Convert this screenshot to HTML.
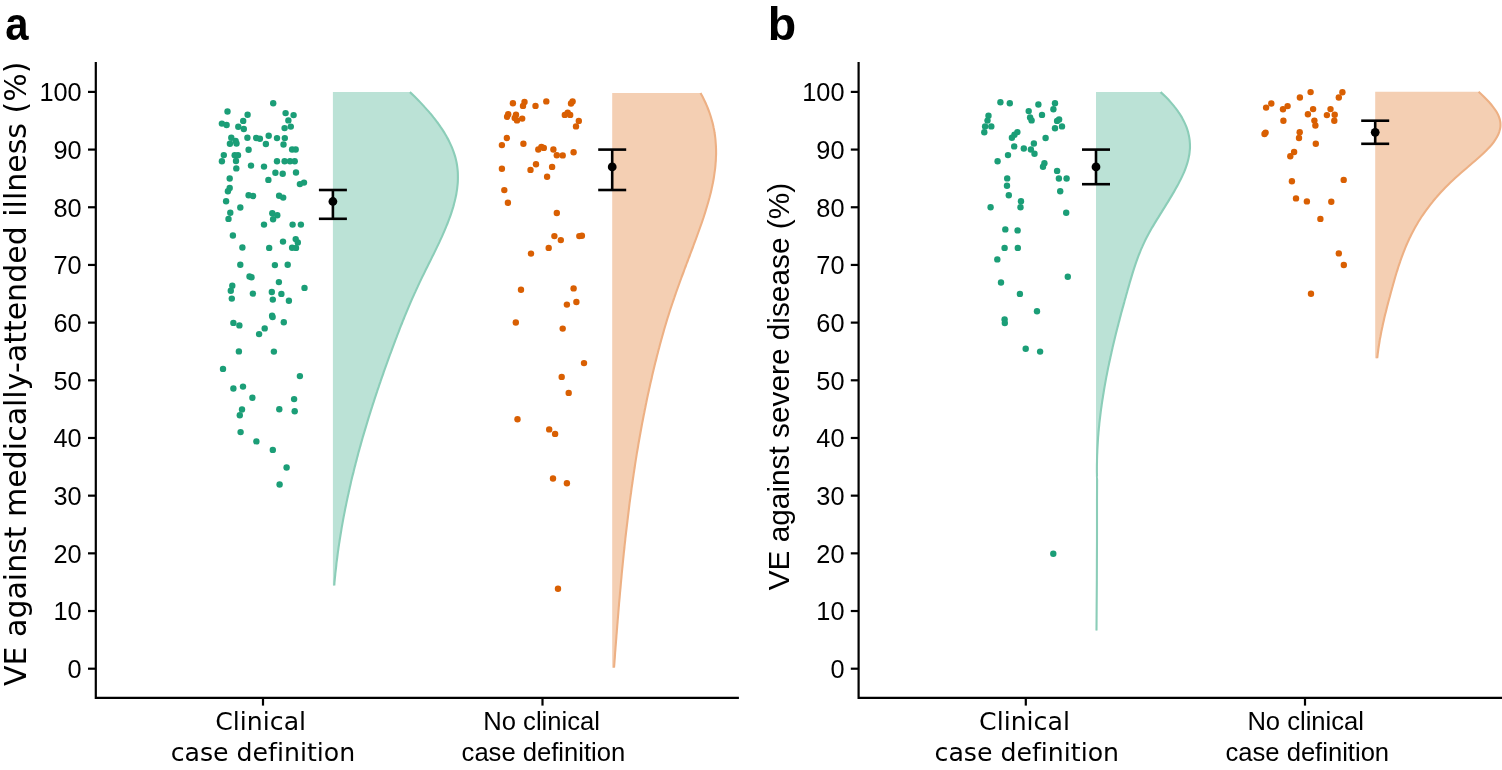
<!DOCTYPE html>
<html><head><meta charset="utf-8"><title>VE plot</title>
<style>html,body{margin:0;padding:0;background:#fff;}text{font-variant-ligatures:none;}.ls{font-family:"Liberation Sans",Arial,sans-serif;}.dj{font-family:"DejaVu Sans",sans-serif;}svg{display:block;}</style>
</head><body>
<svg width="1502" height="770" viewBox="0 0 1502 770">
<rect width="1502" height="770" fill="#fff"/>
<path d="M332.9,92.1 L409.9,92.1 C410.8,92.9 413.4,95.4 415.1,97.1 C416.8,98.8 418.5,100.4 420.1,102.1 C421.7,103.8 423.2,105.4 424.7,107.1 C426.3,108.8 427.7,110.4 429.2,112.1 C430.6,113.8 432.0,115.4 433.3,117.1 C434.7,118.8 435.9,120.4 437.2,122.1 C438.4,123.8 439.6,125.4 440.7,127.1 C441.9,128.8 443.0,130.4 444.0,132.1 C445.0,133.8 446.0,135.4 446.9,137.1 C447.9,138.8 448.7,140.4 449.5,142.1 C450.3,143.8 451.1,145.4 451.8,147.1 C452.5,148.8 453.1,150.4 453.7,152.1 C454.3,153.8 454.8,155.4 455.3,157.1 C455.7,158.8 456.1,160.4 456.5,162.1 C456.8,163.8 457.1,165.4 457.3,167.1 C457.5,168.8 457.7,170.4 457.8,172.1 C457.9,173.8 457.9,175.4 457.9,177.1 C457.9,178.8 457.9,180.4 457.8,182.1 C457.7,183.8 457.5,185.4 457.3,187.1 C457.2,188.8 456.9,190.4 456.6,192.1 C456.4,193.8 456.1,195.4 455.7,197.1 C455.3,198.8 455.0,200.4 454.5,202.1 C454.1,203.8 453.6,205.4 453.2,207.1 C452.7,208.8 452.1,210.4 451.6,212.1 C451.1,213.8 450.5,215.4 449.9,217.1 C449.3,218.8 448.6,220.4 448.0,222.1 C447.4,223.8 446.7,225.4 446.0,227.1 C445.3,228.8 444.6,230.4 443.9,232.1 C443.2,233.8 442.4,235.4 441.7,237.1 C440.9,238.8 440.1,240.4 439.4,242.1 C438.6,243.8 437.8,245.4 437.0,247.1 C436.2,248.8 435.4,250.4 434.6,252.1 C433.8,253.8 433.0,255.4 432.1,257.1 C431.3,258.8 430.5,260.4 429.7,262.1 C428.8,263.8 428.0,265.4 427.2,267.1 C426.3,268.8 425.5,270.4 424.7,272.1 C423.9,273.8 423.1,275.4 422.2,277.1 C421.4,278.8 420.6,280.4 419.8,282.1 C419.0,283.8 418.2,285.4 417.5,287.1 C416.7,288.8 415.9,290.4 415.2,292.1 C414.4,293.8 413.7,295.4 412.9,297.1 C412.2,298.8 411.4,300.4 410.7,302.1 C410.0,303.8 409.3,305.4 408.6,307.1 C407.9,308.8 407.2,310.4 406.5,312.1 C405.8,313.8 405.1,315.4 404.4,317.1 C403.8,318.8 403.1,320.4 402.4,322.1 C401.8,323.8 401.1,325.4 400.4,327.1 C399.8,328.8 399.1,330.4 398.5,332.1 C397.8,333.8 397.2,335.4 396.6,337.1 C395.9,338.8 395.3,340.4 394.7,342.1 C394.1,343.8 393.4,345.4 392.8,347.1 C392.2,348.8 391.6,350.4 391.0,352.1 C390.3,353.8 389.7,355.4 389.1,357.1 C388.5,358.8 387.9,360.4 387.3,362.1 C386.7,363.8 386.1,365.4 385.5,367.1 C384.9,368.8 384.3,370.4 383.7,372.1 C383.2,373.8 382.6,375.4 382.0,377.1 C381.4,378.8 380.8,380.4 380.3,382.1 C379.7,383.8 379.1,385.4 378.6,387.1 C378.0,388.8 377.4,390.4 376.9,392.1 C376.3,393.8 375.8,395.4 375.2,397.1 C374.7,398.8 374.1,400.4 373.6,402.1 C373.0,403.8 372.5,405.4 372.0,407.1 C371.4,408.8 370.9,410.4 370.4,412.1 C369.9,413.8 369.3,415.4 368.8,417.1 C368.3,418.8 367.8,420.4 367.3,422.1 C366.8,423.8 366.3,425.4 365.8,427.1 C365.3,428.8 364.8,430.4 364.3,432.1 C363.8,433.8 363.3,435.4 362.8,437.1 C362.4,438.8 361.9,440.4 361.4,442.1 C360.9,443.8 360.5,445.4 360.0,447.1 C359.6,448.8 359.1,450.4 358.6,452.1 C358.2,453.8 357.7,455.4 357.3,457.1 C356.9,458.8 356.4,460.4 356.0,462.1 C355.6,463.8 355.1,465.4 354.7,467.1 C354.3,468.8 353.9,470.4 353.5,472.1 C353.0,473.8 352.6,475.4 352.2,477.1 C351.8,478.8 351.4,480.4 351.0,482.1 C350.7,483.8 350.3,485.4 349.9,487.1 C349.5,488.8 349.1,490.4 348.8,492.1 C348.4,493.8 348.0,495.4 347.7,497.1 C347.3,498.8 347.0,500.4 346.6,502.1 C346.3,503.8 345.9,505.4 345.6,507.1 C345.2,508.8 344.9,510.4 344.6,512.1 C344.3,513.8 343.9,515.4 343.6,517.1 C343.3,518.8 343.0,520.4 342.7,522.1 C342.4,523.8 342.1,525.4 341.8,527.1 C341.5,528.8 341.3,530.4 341.0,532.1 C340.7,533.8 340.4,535.4 340.2,537.1 C339.9,538.8 339.6,540.4 339.4,542.1 C339.1,543.8 338.9,545.4 338.6,547.1 C338.4,548.8 338.2,550.4 337.9,552.1 C337.7,553.8 337.5,555.4 337.3,557.1 C337.1,558.8 336.9,560.4 336.6,562.1 C336.4,563.8 336.3,565.4 336.1,567.1 C335.9,568.8 335.7,570.4 335.5,572.1 C335.3,573.8 335.2,575.4 335.0,577.1 C334.8,578.8 334.7,580.7 334.5,582.1 C334.4,583.5 334.3,584.9 334.3,585.5 L332.9,585.5 Z" fill="#BBE2D6"/>
<path d="M409.9,92.1 C410.8,92.9 413.4,95.4 415.1,97.1 C416.8,98.8 418.5,100.4 420.1,102.1 C421.7,103.8 423.2,105.4 424.7,107.1 C426.3,108.8 427.7,110.4 429.2,112.1 C430.6,113.8 432.0,115.4 433.3,117.1 C434.7,118.8 435.9,120.4 437.2,122.1 C438.4,123.8 439.6,125.4 440.7,127.1 C441.9,128.8 443.0,130.4 444.0,132.1 C445.0,133.8 446.0,135.4 446.9,137.1 C447.9,138.8 448.7,140.4 449.5,142.1 C450.3,143.8 451.1,145.4 451.8,147.1 C452.5,148.8 453.1,150.4 453.7,152.1 C454.3,153.8 454.8,155.4 455.3,157.1 C455.7,158.8 456.1,160.4 456.5,162.1 C456.8,163.8 457.1,165.4 457.3,167.1 C457.5,168.8 457.7,170.4 457.8,172.1 C457.9,173.8 457.9,175.4 457.9,177.1 C457.9,178.8 457.9,180.4 457.8,182.1 C457.7,183.8 457.5,185.4 457.3,187.1 C457.2,188.8 456.9,190.4 456.6,192.1 C456.4,193.8 456.1,195.4 455.7,197.1 C455.3,198.8 455.0,200.4 454.5,202.1 C454.1,203.8 453.6,205.4 453.2,207.1 C452.7,208.8 452.1,210.4 451.6,212.1 C451.1,213.8 450.5,215.4 449.9,217.1 C449.3,218.8 448.6,220.4 448.0,222.1 C447.4,223.8 446.7,225.4 446.0,227.1 C445.3,228.8 444.6,230.4 443.9,232.1 C443.2,233.8 442.4,235.4 441.7,237.1 C440.9,238.8 440.1,240.4 439.4,242.1 C438.6,243.8 437.8,245.4 437.0,247.1 C436.2,248.8 435.4,250.4 434.6,252.1 C433.8,253.8 433.0,255.4 432.1,257.1 C431.3,258.8 430.5,260.4 429.7,262.1 C428.8,263.8 428.0,265.4 427.2,267.1 C426.3,268.8 425.5,270.4 424.7,272.1 C423.9,273.8 423.1,275.4 422.2,277.1 C421.4,278.8 420.6,280.4 419.8,282.1 C419.0,283.8 418.2,285.4 417.5,287.1 C416.7,288.8 415.9,290.4 415.2,292.1 C414.4,293.8 413.7,295.4 412.9,297.1 C412.2,298.8 411.4,300.4 410.7,302.1 C410.0,303.8 409.3,305.4 408.6,307.1 C407.9,308.8 407.2,310.4 406.5,312.1 C405.8,313.8 405.1,315.4 404.4,317.1 C403.8,318.8 403.1,320.4 402.4,322.1 C401.8,323.8 401.1,325.4 400.4,327.1 C399.8,328.8 399.1,330.4 398.5,332.1 C397.8,333.8 397.2,335.4 396.6,337.1 C395.9,338.8 395.3,340.4 394.7,342.1 C394.1,343.8 393.4,345.4 392.8,347.1 C392.2,348.8 391.6,350.4 391.0,352.1 C390.3,353.8 389.7,355.4 389.1,357.1 C388.5,358.8 387.9,360.4 387.3,362.1 C386.7,363.8 386.1,365.4 385.5,367.1 C384.9,368.8 384.3,370.4 383.7,372.1 C383.2,373.8 382.6,375.4 382.0,377.1 C381.4,378.8 380.8,380.4 380.3,382.1 C379.7,383.8 379.1,385.4 378.6,387.1 C378.0,388.8 377.4,390.4 376.9,392.1 C376.3,393.8 375.8,395.4 375.2,397.1 C374.7,398.8 374.1,400.4 373.6,402.1 C373.0,403.8 372.5,405.4 372.0,407.1 C371.4,408.8 370.9,410.4 370.4,412.1 C369.9,413.8 369.3,415.4 368.8,417.1 C368.3,418.8 367.8,420.4 367.3,422.1 C366.8,423.8 366.3,425.4 365.8,427.1 C365.3,428.8 364.8,430.4 364.3,432.1 C363.8,433.8 363.3,435.4 362.8,437.1 C362.4,438.8 361.9,440.4 361.4,442.1 C360.9,443.8 360.5,445.4 360.0,447.1 C359.6,448.8 359.1,450.4 358.6,452.1 C358.2,453.8 357.7,455.4 357.3,457.1 C356.9,458.8 356.4,460.4 356.0,462.1 C355.6,463.8 355.1,465.4 354.7,467.1 C354.3,468.8 353.9,470.4 353.5,472.1 C353.0,473.8 352.6,475.4 352.2,477.1 C351.8,478.8 351.4,480.4 351.0,482.1 C350.7,483.8 350.3,485.4 349.9,487.1 C349.5,488.8 349.1,490.4 348.8,492.1 C348.4,493.8 348.0,495.4 347.7,497.1 C347.3,498.8 347.0,500.4 346.6,502.1 C346.3,503.8 345.9,505.4 345.6,507.1 C345.2,508.8 344.9,510.4 344.6,512.1 C344.3,513.8 343.9,515.4 343.6,517.1 C343.3,518.8 343.0,520.4 342.7,522.1 C342.4,523.8 342.1,525.4 341.8,527.1 C341.5,528.8 341.3,530.4 341.0,532.1 C340.7,533.8 340.4,535.4 340.2,537.1 C339.9,538.8 339.6,540.4 339.4,542.1 C339.1,543.8 338.9,545.4 338.6,547.1 C338.4,548.8 338.2,550.4 337.9,552.1 C337.7,553.8 337.5,555.4 337.3,557.1 C337.1,558.8 336.9,560.4 336.6,562.1 C336.4,563.8 336.3,565.4 336.1,567.1 C335.9,568.8 335.7,570.4 335.5,572.1 C335.3,573.8 335.2,575.4 335.0,577.1 C334.8,578.8 334.7,580.7 334.5,582.1 C334.4,583.5 334.3,584.9 334.3,585.5" fill="none" stroke="#8BCDB8" stroke-width="2.1"/>

<path d="M612.2,93.0 L700.5,93.0 C700.9,93.8 702.3,96.3 703.2,98.0 C704.0,99.7 704.8,101.3 705.6,103.0 C706.3,104.7 707.1,106.3 707.7,108.0 C708.4,109.7 709.0,111.3 709.6,113.0 C710.2,114.7 710.7,116.3 711.2,118.0 C711.7,119.7 712.2,121.3 712.6,123.0 C713.0,124.7 713.4,126.3 713.7,128.0 C714.1,129.7 714.4,131.3 714.6,133.0 C714.9,134.7 715.1,136.3 715.3,138.0 C715.5,139.7 715.6,141.3 715.7,143.0 C715.9,144.7 715.9,146.3 716.0,148.0 C716.1,149.7 716.1,151.3 716.1,153.0 C716.1,154.7 716.0,156.3 715.9,158.0 C715.9,159.7 715.8,161.3 715.6,163.0 C715.5,164.7 715.4,166.3 715.2,168.0 C715.0,169.7 714.8,171.3 714.5,173.0 C714.3,174.7 714.1,176.3 713.8,178.0 C713.5,179.7 713.2,181.3 712.9,183.0 C712.5,184.7 712.2,186.3 711.8,188.0 C711.5,189.7 711.1,191.3 710.7,193.0 C710.3,194.7 709.8,196.3 709.4,198.0 C708.9,199.7 708.5,201.3 708.0,203.0 C707.5,204.7 707.0,206.3 706.5,208.0 C706.0,209.7 705.5,211.3 705.0,213.0 C704.5,214.7 703.9,216.3 703.4,218.0 C702.8,219.7 702.3,221.3 701.7,223.0 C701.1,224.7 700.5,226.3 699.9,228.0 C699.3,229.7 698.7,231.3 698.1,233.0 C697.5,234.7 696.9,236.3 696.3,238.0 C695.7,239.7 695.1,241.3 694.4,243.0 C693.8,244.7 693.2,246.3 692.6,248.0 C691.9,249.7 691.3,251.3 690.7,253.0 C690.1,254.7 689.4,256.3 688.8,258.0 C688.2,259.7 687.5,261.3 686.9,263.0 C686.3,264.7 685.6,266.3 685.0,268.0 C684.4,269.7 683.8,271.3 683.2,273.0 C682.5,274.7 681.9,276.3 681.3,278.0 C680.7,279.7 680.1,281.3 679.5,283.0 C678.9,284.7 678.3,286.3 677.7,288.0 C677.1,289.7 676.5,291.3 675.9,293.0 C675.3,294.7 674.7,296.3 674.2,298.0 C673.6,299.7 673.0,301.3 672.5,303.0 C671.9,304.7 671.4,306.3 670.8,308.0 C670.3,309.7 669.7,311.3 669.2,313.0 C668.7,314.7 668.2,316.3 667.6,318.0 C667.1,319.7 666.6,321.3 666.1,323.0 C665.6,324.7 665.1,326.3 664.6,328.0 C664.1,329.7 663.7,331.3 663.2,333.0 C662.7,334.7 662.2,336.3 661.8,338.0 C661.3,339.7 660.9,341.3 660.4,343.0 C660.0,344.7 659.5,346.3 659.1,348.0 C658.6,349.7 658.2,351.3 657.8,353.0 C657.3,354.7 656.9,356.3 656.5,358.0 C656.1,359.7 655.7,361.3 655.2,363.0 C654.8,364.7 654.4,366.3 654.0,368.0 C653.6,369.7 653.2,371.3 652.8,373.0 C652.4,374.7 652.0,376.3 651.7,378.0 C651.3,379.7 650.9,381.3 650.5,383.0 C650.1,384.7 649.8,386.3 649.4,388.0 C649.0,389.7 648.7,391.3 648.3,393.0 C647.9,394.7 647.6,396.3 647.2,398.0 C646.9,399.7 646.5,401.3 646.2,403.0 C645.8,404.7 645.5,406.3 645.2,408.0 C644.8,409.7 644.5,411.3 644.2,413.0 C643.8,414.7 643.5,416.3 643.2,418.0 C642.9,419.7 642.6,421.3 642.2,423.0 C641.9,424.7 641.6,426.3 641.3,428.0 C641.0,429.7 640.7,431.3 640.4,433.0 C640.1,434.7 639.8,436.3 639.5,438.0 C639.2,439.7 638.9,441.3 638.6,443.0 C638.3,444.7 638.1,446.3 637.8,448.0 C637.5,449.7 637.2,451.3 636.9,453.0 C636.7,454.7 636.4,456.3 636.1,458.0 C635.9,459.7 635.6,461.3 635.3,463.0 C635.1,464.7 634.8,466.3 634.6,468.0 C634.3,469.7 634.1,471.3 633.8,473.0 C633.6,474.7 633.3,476.3 633.1,478.0 C632.8,479.7 632.6,481.3 632.4,483.0 C632.1,484.7 631.9,486.3 631.6,488.0 C631.4,489.7 631.2,491.3 631.0,493.0 C630.7,494.7 630.5,496.3 630.3,498.0 C630.1,499.7 629.8,501.3 629.6,503.0 C629.4,504.7 629.2,506.3 629.0,508.0 C628.8,509.7 628.6,511.3 628.4,513.0 C628.2,514.7 628.0,516.3 627.8,518.0 C627.6,519.7 627.4,521.3 627.2,523.0 C627.0,524.7 626.8,526.3 626.6,528.0 C626.4,529.7 626.2,531.3 626.0,533.0 C625.8,534.7 625.6,536.3 625.4,538.0 C625.3,539.7 625.1,541.3 624.9,543.0 C624.7,544.7 624.5,546.3 624.4,548.0 C624.2,549.7 624.0,551.3 623.8,553.0 C623.7,554.7 623.5,556.3 623.3,558.0 C623.2,559.7 623.0,561.3 622.8,563.0 C622.7,564.7 622.5,566.3 622.3,568.0 C622.2,569.7 622.0,571.3 621.8,573.0 C621.7,574.7 621.5,576.3 621.4,578.0 C621.2,579.7 621.1,581.3 620.9,583.0 C620.8,584.7 620.6,586.3 620.5,588.0 C620.3,589.7 620.2,591.3 620.0,593.0 C619.9,594.7 619.7,596.3 619.6,598.0 C619.4,599.7 619.3,601.3 619.1,603.0 C619.0,604.7 618.9,606.3 618.7,608.0 C618.6,609.7 618.4,611.3 618.3,613.0 C618.2,614.7 618.0,616.3 617.9,618.0 C617.7,619.7 617.6,621.3 617.5,623.0 C617.3,624.7 617.2,626.3 617.1,628.0 C616.9,629.7 616.8,631.3 616.7,633.0 C616.5,634.7 616.4,636.3 616.3,638.0 C616.2,639.7 616.0,641.3 615.9,643.0 C615.8,644.7 615.6,646.3 615.5,648.0 C615.4,649.7 615.3,651.3 615.1,653.0 C615.0,654.7 614.9,656.3 614.8,658.0 C614.6,659.7 614.5,661.4 614.4,663.0 C614.3,664.6 614.1,666.9 614.0,667.7 L612.2,667.7 Z" fill="#F4CFB3"/>
<path d="M700.5,93.0 C700.9,93.8 702.3,96.3 703.2,98.0 C704.0,99.7 704.8,101.3 705.6,103.0 C706.3,104.7 707.1,106.3 707.7,108.0 C708.4,109.7 709.0,111.3 709.6,113.0 C710.2,114.7 710.7,116.3 711.2,118.0 C711.7,119.7 712.2,121.3 712.6,123.0 C713.0,124.7 713.4,126.3 713.7,128.0 C714.1,129.7 714.4,131.3 714.6,133.0 C714.9,134.7 715.1,136.3 715.3,138.0 C715.5,139.7 715.6,141.3 715.7,143.0 C715.9,144.7 715.9,146.3 716.0,148.0 C716.1,149.7 716.1,151.3 716.1,153.0 C716.1,154.7 716.0,156.3 715.9,158.0 C715.9,159.7 715.8,161.3 715.6,163.0 C715.5,164.7 715.4,166.3 715.2,168.0 C715.0,169.7 714.8,171.3 714.5,173.0 C714.3,174.7 714.1,176.3 713.8,178.0 C713.5,179.7 713.2,181.3 712.9,183.0 C712.5,184.7 712.2,186.3 711.8,188.0 C711.5,189.7 711.1,191.3 710.7,193.0 C710.3,194.7 709.8,196.3 709.4,198.0 C708.9,199.7 708.5,201.3 708.0,203.0 C707.5,204.7 707.0,206.3 706.5,208.0 C706.0,209.7 705.5,211.3 705.0,213.0 C704.5,214.7 703.9,216.3 703.4,218.0 C702.8,219.7 702.3,221.3 701.7,223.0 C701.1,224.7 700.5,226.3 699.9,228.0 C699.3,229.7 698.7,231.3 698.1,233.0 C697.5,234.7 696.9,236.3 696.3,238.0 C695.7,239.7 695.1,241.3 694.4,243.0 C693.8,244.7 693.2,246.3 692.6,248.0 C691.9,249.7 691.3,251.3 690.7,253.0 C690.1,254.7 689.4,256.3 688.8,258.0 C688.2,259.7 687.5,261.3 686.9,263.0 C686.3,264.7 685.6,266.3 685.0,268.0 C684.4,269.7 683.8,271.3 683.2,273.0 C682.5,274.7 681.9,276.3 681.3,278.0 C680.7,279.7 680.1,281.3 679.5,283.0 C678.9,284.7 678.3,286.3 677.7,288.0 C677.1,289.7 676.5,291.3 675.9,293.0 C675.3,294.7 674.7,296.3 674.2,298.0 C673.6,299.7 673.0,301.3 672.5,303.0 C671.9,304.7 671.4,306.3 670.8,308.0 C670.3,309.7 669.7,311.3 669.2,313.0 C668.7,314.7 668.2,316.3 667.6,318.0 C667.1,319.7 666.6,321.3 666.1,323.0 C665.6,324.7 665.1,326.3 664.6,328.0 C664.1,329.7 663.7,331.3 663.2,333.0 C662.7,334.7 662.2,336.3 661.8,338.0 C661.3,339.7 660.9,341.3 660.4,343.0 C660.0,344.7 659.5,346.3 659.1,348.0 C658.6,349.7 658.2,351.3 657.8,353.0 C657.3,354.7 656.9,356.3 656.5,358.0 C656.1,359.7 655.7,361.3 655.2,363.0 C654.8,364.7 654.4,366.3 654.0,368.0 C653.6,369.7 653.2,371.3 652.8,373.0 C652.4,374.7 652.0,376.3 651.7,378.0 C651.3,379.7 650.9,381.3 650.5,383.0 C650.1,384.7 649.8,386.3 649.4,388.0 C649.0,389.7 648.7,391.3 648.3,393.0 C647.9,394.7 647.6,396.3 647.2,398.0 C646.9,399.7 646.5,401.3 646.2,403.0 C645.8,404.7 645.5,406.3 645.2,408.0 C644.8,409.7 644.5,411.3 644.2,413.0 C643.8,414.7 643.5,416.3 643.2,418.0 C642.9,419.7 642.6,421.3 642.2,423.0 C641.9,424.7 641.6,426.3 641.3,428.0 C641.0,429.7 640.7,431.3 640.4,433.0 C640.1,434.7 639.8,436.3 639.5,438.0 C639.2,439.7 638.9,441.3 638.6,443.0 C638.3,444.7 638.1,446.3 637.8,448.0 C637.5,449.7 637.2,451.3 636.9,453.0 C636.7,454.7 636.4,456.3 636.1,458.0 C635.9,459.7 635.6,461.3 635.3,463.0 C635.1,464.7 634.8,466.3 634.6,468.0 C634.3,469.7 634.1,471.3 633.8,473.0 C633.6,474.7 633.3,476.3 633.1,478.0 C632.8,479.7 632.6,481.3 632.4,483.0 C632.1,484.7 631.9,486.3 631.6,488.0 C631.4,489.7 631.2,491.3 631.0,493.0 C630.7,494.7 630.5,496.3 630.3,498.0 C630.1,499.7 629.8,501.3 629.6,503.0 C629.4,504.7 629.2,506.3 629.0,508.0 C628.8,509.7 628.6,511.3 628.4,513.0 C628.2,514.7 628.0,516.3 627.8,518.0 C627.6,519.7 627.4,521.3 627.2,523.0 C627.0,524.7 626.8,526.3 626.6,528.0 C626.4,529.7 626.2,531.3 626.0,533.0 C625.8,534.7 625.6,536.3 625.4,538.0 C625.3,539.7 625.1,541.3 624.9,543.0 C624.7,544.7 624.5,546.3 624.4,548.0 C624.2,549.7 624.0,551.3 623.8,553.0 C623.7,554.7 623.5,556.3 623.3,558.0 C623.2,559.7 623.0,561.3 622.8,563.0 C622.7,564.7 622.5,566.3 622.3,568.0 C622.2,569.7 622.0,571.3 621.8,573.0 C621.7,574.7 621.5,576.3 621.4,578.0 C621.2,579.7 621.1,581.3 620.9,583.0 C620.8,584.7 620.6,586.3 620.5,588.0 C620.3,589.7 620.2,591.3 620.0,593.0 C619.9,594.7 619.7,596.3 619.6,598.0 C619.4,599.7 619.3,601.3 619.1,603.0 C619.0,604.7 618.9,606.3 618.7,608.0 C618.6,609.7 618.4,611.3 618.3,613.0 C618.2,614.7 618.0,616.3 617.9,618.0 C617.7,619.7 617.6,621.3 617.5,623.0 C617.3,624.7 617.2,626.3 617.1,628.0 C616.9,629.7 616.8,631.3 616.7,633.0 C616.5,634.7 616.4,636.3 616.3,638.0 C616.2,639.7 616.0,641.3 615.9,643.0 C615.8,644.7 615.6,646.3 615.5,648.0 C615.4,649.7 615.3,651.3 615.1,653.0 C615.0,654.7 614.9,656.3 614.8,658.0 C614.6,659.7 614.5,661.4 614.4,663.0 C614.3,664.6 614.1,666.9 614.0,667.7" fill="none" stroke="#EDB084" stroke-width="2.1"/>

<path d="M1096.0,92.1 L1160.6,92.1 C1161.5,92.9 1164.2,95.4 1165.9,97.1 C1167.6,98.8 1169.1,100.4 1170.6,102.1 C1172.1,103.8 1173.5,105.4 1174.8,107.1 C1176.2,108.8 1177.4,110.4 1178.5,112.1 C1179.7,113.8 1180.7,115.4 1181.7,117.1 C1182.6,118.8 1183.5,120.4 1184.3,122.1 C1185.1,123.8 1185.8,125.4 1186.5,127.1 C1187.1,128.8 1187.6,130.4 1188.1,132.1 C1188.5,133.8 1188.9,135.4 1189.2,137.1 C1189.5,138.8 1189.7,140.4 1189.8,142.1 C1190.0,143.8 1190.0,145.4 1190.0,147.1 C1190.0,148.8 1189.8,150.4 1189.6,152.1 C1189.5,153.8 1189.2,155.4 1188.8,157.1 C1188.5,158.8 1188.1,160.4 1187.6,162.1 C1187.1,163.8 1186.6,165.4 1186.0,167.1 C1185.4,168.8 1184.8,170.4 1184.1,172.1 C1183.4,173.8 1182.6,175.4 1181.8,177.1 C1181.0,178.8 1180.2,180.4 1179.3,182.1 C1178.5,183.8 1177.6,185.4 1176.6,187.1 C1175.7,188.8 1174.8,190.4 1173.8,192.1 C1172.8,193.8 1171.8,195.4 1170.8,197.1 C1169.8,198.8 1168.8,200.4 1167.8,202.1 C1166.7,203.8 1165.7,205.4 1164.7,207.1 C1163.6,208.8 1162.6,210.4 1161.6,212.1 C1160.5,213.8 1159.5,215.4 1158.5,217.1 C1157.4,218.8 1156.4,220.4 1155.4,222.1 C1154.4,223.8 1153.4,225.4 1152.4,227.1 C1151.5,228.8 1150.5,230.4 1149.6,232.1 C1148.7,233.8 1147.8,235.4 1146.9,237.1 C1146.0,238.8 1145.2,240.4 1144.4,242.1 C1143.6,243.8 1142.8,245.4 1142.1,247.1 C1141.3,248.8 1140.6,250.4 1140.0,252.1 C1139.3,253.8 1138.6,255.4 1138.0,257.1 C1137.4,258.8 1136.8,260.4 1136.2,262.1 C1135.6,263.8 1135.1,265.4 1134.5,267.1 C1134.0,268.8 1133.4,270.4 1132.9,272.1 C1132.4,273.8 1131.9,275.4 1131.4,277.1 C1130.9,278.8 1130.4,280.4 1129.9,282.1 C1129.5,283.8 1129.0,285.4 1128.5,287.1 C1128.0,288.8 1127.5,290.4 1127.1,292.1 C1126.6,293.8 1126.1,295.4 1125.7,297.1 C1125.2,298.8 1124.7,300.4 1124.3,302.1 C1123.8,303.8 1123.4,305.4 1122.9,307.1 C1122.4,308.8 1122.0,310.4 1121.5,312.1 C1121.1,313.8 1120.7,315.4 1120.2,317.1 C1119.8,318.8 1119.3,320.4 1118.9,322.1 C1118.5,323.8 1118.0,325.4 1117.6,327.1 C1117.2,328.8 1116.8,330.4 1116.3,332.1 C1115.9,333.8 1115.5,335.4 1115.1,337.1 C1114.7,338.8 1114.3,340.4 1113.9,342.1 C1113.5,343.8 1113.1,345.4 1112.7,347.1 C1112.3,348.8 1111.9,350.4 1111.6,352.1 C1111.2,353.8 1110.8,355.4 1110.5,357.1 C1110.1,358.8 1109.7,360.4 1109.4,362.1 C1109.0,363.8 1108.7,365.4 1108.3,367.1 C1108.0,368.8 1107.6,370.4 1107.3,372.1 C1107.0,373.8 1106.7,375.4 1106.3,377.1 C1106.0,378.8 1105.7,380.4 1105.4,382.1 C1105.1,383.8 1104.8,385.4 1104.5,387.1 C1104.2,388.8 1103.9,390.4 1103.7,392.1 C1103.4,393.8 1103.1,395.4 1102.9,397.1 C1102.6,398.8 1102.3,400.4 1102.1,402.1 C1101.8,403.8 1101.6,405.4 1101.4,407.1 C1101.1,408.8 1100.9,410.4 1100.7,412.1 C1100.5,413.8 1100.3,415.4 1100.1,417.1 C1099.9,418.8 1099.7,420.4 1099.5,422.1 C1099.3,423.8 1099.2,425.4 1099.0,427.1 C1098.8,428.8 1098.7,430.4 1098.5,432.1 C1098.4,433.8 1098.3,435.4 1098.1,437.1 C1098.0,438.8 1097.9,440.4 1097.8,442.1 C1097.7,443.8 1097.6,445.4 1097.5,447.1 C1097.4,448.8 1097.3,450.4 1097.3,452.1 C1097.2,453.8 1097.1,455.4 1097.1,457.1 C1097.0,458.8 1097.0,460.4 1097.0,462.1 C1096.9,463.8 1096.9,465.4 1096.9,467.1 C1096.9,468.8 1096.9,470.4 1096.9,472.1 C1097.0,473.8 1097.0,475.8 1097.0,477.1 C1097.1,478.4 1097.1,476.2 1097.1,480.0 C1097.1,483.8 1097.0,491.7 1097.0,500.0 C1097.0,508.3 1097.0,520.0 1097.0,530.0 C1097.0,540.0 1097.0,548.3 1096.9,560.0 C1096.9,571.7 1096.8,588.2 1096.7,600.0 C1096.6,611.8 1096.5,625.5 1096.5,630.6 L1096.0,630.6 Z" fill="#BBE2D6"/>
<path d="M1160.6,92.1 C1161.5,92.9 1164.2,95.4 1165.9,97.1 C1167.6,98.8 1169.1,100.4 1170.6,102.1 C1172.1,103.8 1173.5,105.4 1174.8,107.1 C1176.2,108.8 1177.4,110.4 1178.5,112.1 C1179.7,113.8 1180.7,115.4 1181.7,117.1 C1182.6,118.8 1183.5,120.4 1184.3,122.1 C1185.1,123.8 1185.8,125.4 1186.5,127.1 C1187.1,128.8 1187.6,130.4 1188.1,132.1 C1188.5,133.8 1188.9,135.4 1189.2,137.1 C1189.5,138.8 1189.7,140.4 1189.8,142.1 C1190.0,143.8 1190.0,145.4 1190.0,147.1 C1190.0,148.8 1189.8,150.4 1189.6,152.1 C1189.5,153.8 1189.2,155.4 1188.8,157.1 C1188.5,158.8 1188.1,160.4 1187.6,162.1 C1187.1,163.8 1186.6,165.4 1186.0,167.1 C1185.4,168.8 1184.8,170.4 1184.1,172.1 C1183.4,173.8 1182.6,175.4 1181.8,177.1 C1181.0,178.8 1180.2,180.4 1179.3,182.1 C1178.5,183.8 1177.6,185.4 1176.6,187.1 C1175.7,188.8 1174.8,190.4 1173.8,192.1 C1172.8,193.8 1171.8,195.4 1170.8,197.1 C1169.8,198.8 1168.8,200.4 1167.8,202.1 C1166.7,203.8 1165.7,205.4 1164.7,207.1 C1163.6,208.8 1162.6,210.4 1161.6,212.1 C1160.5,213.8 1159.5,215.4 1158.5,217.1 C1157.4,218.8 1156.4,220.4 1155.4,222.1 C1154.4,223.8 1153.4,225.4 1152.4,227.1 C1151.5,228.8 1150.5,230.4 1149.6,232.1 C1148.7,233.8 1147.8,235.4 1146.9,237.1 C1146.0,238.8 1145.2,240.4 1144.4,242.1 C1143.6,243.8 1142.8,245.4 1142.1,247.1 C1141.3,248.8 1140.6,250.4 1140.0,252.1 C1139.3,253.8 1138.6,255.4 1138.0,257.1 C1137.4,258.8 1136.8,260.4 1136.2,262.1 C1135.6,263.8 1135.1,265.4 1134.5,267.1 C1134.0,268.8 1133.4,270.4 1132.9,272.1 C1132.4,273.8 1131.9,275.4 1131.4,277.1 C1130.9,278.8 1130.4,280.4 1129.9,282.1 C1129.5,283.8 1129.0,285.4 1128.5,287.1 C1128.0,288.8 1127.5,290.4 1127.1,292.1 C1126.6,293.8 1126.1,295.4 1125.7,297.1 C1125.2,298.8 1124.7,300.4 1124.3,302.1 C1123.8,303.8 1123.4,305.4 1122.9,307.1 C1122.4,308.8 1122.0,310.4 1121.5,312.1 C1121.1,313.8 1120.7,315.4 1120.2,317.1 C1119.8,318.8 1119.3,320.4 1118.9,322.1 C1118.5,323.8 1118.0,325.4 1117.6,327.1 C1117.2,328.8 1116.8,330.4 1116.3,332.1 C1115.9,333.8 1115.5,335.4 1115.1,337.1 C1114.7,338.8 1114.3,340.4 1113.9,342.1 C1113.5,343.8 1113.1,345.4 1112.7,347.1 C1112.3,348.8 1111.9,350.4 1111.6,352.1 C1111.2,353.8 1110.8,355.4 1110.5,357.1 C1110.1,358.8 1109.7,360.4 1109.4,362.1 C1109.0,363.8 1108.7,365.4 1108.3,367.1 C1108.0,368.8 1107.6,370.4 1107.3,372.1 C1107.0,373.8 1106.7,375.4 1106.3,377.1 C1106.0,378.8 1105.7,380.4 1105.4,382.1 C1105.1,383.8 1104.8,385.4 1104.5,387.1 C1104.2,388.8 1103.9,390.4 1103.7,392.1 C1103.4,393.8 1103.1,395.4 1102.9,397.1 C1102.6,398.8 1102.3,400.4 1102.1,402.1 C1101.8,403.8 1101.6,405.4 1101.4,407.1 C1101.1,408.8 1100.9,410.4 1100.7,412.1 C1100.5,413.8 1100.3,415.4 1100.1,417.1 C1099.9,418.8 1099.7,420.4 1099.5,422.1 C1099.3,423.8 1099.2,425.4 1099.0,427.1 C1098.8,428.8 1098.7,430.4 1098.5,432.1 C1098.4,433.8 1098.3,435.4 1098.1,437.1 C1098.0,438.8 1097.9,440.4 1097.8,442.1 C1097.7,443.8 1097.6,445.4 1097.5,447.1 C1097.4,448.8 1097.3,450.4 1097.3,452.1 C1097.2,453.8 1097.1,455.4 1097.1,457.1 C1097.0,458.8 1097.0,460.4 1097.0,462.1 C1096.9,463.8 1096.9,465.4 1096.9,467.1 C1096.9,468.8 1096.9,470.4 1096.9,472.1 C1097.0,473.8 1097.0,475.8 1097.0,477.1 C1097.1,478.4 1097.1,476.2 1097.1,480.0 C1097.1,483.8 1097.0,491.7 1097.0,500.0 C1097.0,508.3 1097.0,520.0 1097.0,530.0 C1097.0,540.0 1097.0,548.3 1096.9,560.0 C1096.9,571.7 1096.8,588.2 1096.7,600.0 C1096.6,611.8 1096.5,625.5 1096.5,630.6" fill="none" stroke="#8BCDB8" stroke-width="2.1"/>

<path d="M1375.2,91.8 L1478.6,91.8 C1479.5,92.6 1482.2,95.1 1483.9,96.8 C1485.6,98.5 1487.2,100.1 1488.8,101.8 C1490.3,103.5 1491.7,105.1 1493.0,106.8 C1494.3,108.5 1495.5,110.1 1496.5,111.8 C1497.5,113.5 1498.3,115.1 1499.0,116.8 C1499.6,118.5 1500.1,120.1 1500.3,121.8 C1500.5,123.5 1500.5,125.1 1500.4,126.8 C1500.2,128.5 1499.8,130.1 1499.3,131.8 C1498.7,133.5 1498.0,135.1 1497.1,136.8 C1496.2,138.5 1495.1,140.1 1493.9,141.8 C1492.7,143.5 1491.4,145.1 1489.9,146.8 C1488.4,148.5 1486.7,150.1 1485.0,151.8 C1483.3,153.5 1481.5,155.1 1479.6,156.8 C1477.8,158.5 1475.8,160.1 1473.9,161.8 C1472.0,163.5 1470.0,165.1 1468.1,166.8 C1466.1,168.5 1464.2,170.1 1462.3,171.8 C1460.4,173.5 1458.5,175.1 1456.6,176.8 C1454.8,178.5 1453.0,180.1 1451.2,181.8 C1449.5,183.5 1447.8,185.1 1446.1,186.8 C1444.5,188.5 1442.9,190.1 1441.3,191.8 C1439.8,193.5 1438.3,195.1 1436.8,196.8 C1435.4,198.5 1433.9,200.1 1432.6,201.8 C1431.2,203.5 1429.9,205.1 1428.7,206.8 C1427.4,208.5 1426.2,210.1 1425.0,211.8 C1423.8,213.5 1422.7,215.1 1421.6,216.8 C1420.5,218.5 1419.4,220.1 1418.4,221.8 C1417.4,223.5 1416.4,225.1 1415.5,226.8 C1414.6,228.5 1413.7,230.1 1412.8,231.8 C1411.9,233.5 1411.1,235.1 1410.3,236.8 C1409.4,238.5 1408.7,240.1 1407.9,241.8 C1407.2,243.5 1406.4,245.1 1405.7,246.8 C1405.0,248.5 1404.4,250.1 1403.7,251.8 C1403.1,253.5 1402.4,255.1 1401.8,256.8 C1401.2,258.5 1400.6,260.1 1400.1,261.8 C1399.5,263.5 1398.9,265.1 1398.4,266.8 C1397.9,268.5 1397.3,270.1 1396.8,271.8 C1396.3,273.5 1395.8,275.1 1395.3,276.8 C1394.8,278.5 1394.4,280.1 1393.9,281.8 C1393.4,283.5 1392.9,285.1 1392.5,286.8 C1392.0,288.5 1391.6,290.1 1391.1,291.8 C1390.7,293.5 1390.2,295.1 1389.8,296.8 C1389.3,298.5 1388.9,300.1 1388.4,301.8 C1388.0,303.5 1387.6,305.1 1387.1,306.8 C1386.7,308.5 1386.3,310.1 1385.9,311.8 C1385.4,313.5 1385.0,315.1 1384.6,316.8 C1384.2,318.5 1383.9,320.1 1383.5,321.8 C1383.1,323.5 1382.7,325.1 1382.4,326.8 C1382.0,328.5 1381.7,330.1 1381.3,331.8 C1381.0,333.5 1380.7,335.1 1380.4,336.8 C1380.0,338.5 1379.7,340.1 1379.5,341.8 C1379.2,343.5 1378.9,345.1 1378.7,346.8 C1378.4,348.5 1378.2,350.1 1378.0,351.8 C1377.7,353.5 1377.5,355.7 1377.4,356.8 C1377.2,357.9 1377.2,358.1 1377.2,358.3 L1375.2,358.3 Z" fill="#F4CFB3"/>
<path d="M1478.6,91.8 C1479.5,92.6 1482.2,95.1 1483.9,96.8 C1485.6,98.5 1487.2,100.1 1488.8,101.8 C1490.3,103.5 1491.7,105.1 1493.0,106.8 C1494.3,108.5 1495.5,110.1 1496.5,111.8 C1497.5,113.5 1498.3,115.1 1499.0,116.8 C1499.6,118.5 1500.1,120.1 1500.3,121.8 C1500.5,123.5 1500.5,125.1 1500.4,126.8 C1500.2,128.5 1499.8,130.1 1499.3,131.8 C1498.7,133.5 1498.0,135.1 1497.1,136.8 C1496.2,138.5 1495.1,140.1 1493.9,141.8 C1492.7,143.5 1491.4,145.1 1489.9,146.8 C1488.4,148.5 1486.7,150.1 1485.0,151.8 C1483.3,153.5 1481.5,155.1 1479.6,156.8 C1477.8,158.5 1475.8,160.1 1473.9,161.8 C1472.0,163.5 1470.0,165.1 1468.1,166.8 C1466.1,168.5 1464.2,170.1 1462.3,171.8 C1460.4,173.5 1458.5,175.1 1456.6,176.8 C1454.8,178.5 1453.0,180.1 1451.2,181.8 C1449.5,183.5 1447.8,185.1 1446.1,186.8 C1444.5,188.5 1442.9,190.1 1441.3,191.8 C1439.8,193.5 1438.3,195.1 1436.8,196.8 C1435.4,198.5 1433.9,200.1 1432.6,201.8 C1431.2,203.5 1429.9,205.1 1428.7,206.8 C1427.4,208.5 1426.2,210.1 1425.0,211.8 C1423.8,213.5 1422.7,215.1 1421.6,216.8 C1420.5,218.5 1419.4,220.1 1418.4,221.8 C1417.4,223.5 1416.4,225.1 1415.5,226.8 C1414.6,228.5 1413.7,230.1 1412.8,231.8 C1411.9,233.5 1411.1,235.1 1410.3,236.8 C1409.4,238.5 1408.7,240.1 1407.9,241.8 C1407.2,243.5 1406.4,245.1 1405.7,246.8 C1405.0,248.5 1404.4,250.1 1403.7,251.8 C1403.1,253.5 1402.4,255.1 1401.8,256.8 C1401.2,258.5 1400.6,260.1 1400.1,261.8 C1399.5,263.5 1398.9,265.1 1398.4,266.8 C1397.9,268.5 1397.3,270.1 1396.8,271.8 C1396.3,273.5 1395.8,275.1 1395.3,276.8 C1394.8,278.5 1394.4,280.1 1393.9,281.8 C1393.4,283.5 1392.9,285.1 1392.5,286.8 C1392.0,288.5 1391.6,290.1 1391.1,291.8 C1390.7,293.5 1390.2,295.1 1389.8,296.8 C1389.3,298.5 1388.9,300.1 1388.4,301.8 C1388.0,303.5 1387.6,305.1 1387.1,306.8 C1386.7,308.5 1386.3,310.1 1385.9,311.8 C1385.4,313.5 1385.0,315.1 1384.6,316.8 C1384.2,318.5 1383.9,320.1 1383.5,321.8 C1383.1,323.5 1382.7,325.1 1382.4,326.8 C1382.0,328.5 1381.7,330.1 1381.3,331.8 C1381.0,333.5 1380.7,335.1 1380.4,336.8 C1380.0,338.5 1379.7,340.1 1379.5,341.8 C1379.2,343.5 1378.9,345.1 1378.7,346.8 C1378.4,348.5 1378.2,350.1 1378.0,351.8 C1377.7,353.5 1377.5,355.7 1377.4,356.8 C1377.2,357.9 1377.2,358.1 1377.2,358.3" fill="none" stroke="#EDB084" stroke-width="2.1"/>

<g fill="#1B9E77"><circle cx="273.2" cy="103.2" r="3.2"/><circle cx="227.5" cy="111.5" r="3.2"/><circle cx="247.6" cy="114.7" r="3.2"/><circle cx="285.6" cy="113.1" r="3.2"/><circle cx="293.6" cy="115.1" r="3.2"/><circle cx="243.2" cy="120.9" r="3.2"/><circle cx="288.4" cy="120.4" r="3.2"/><circle cx="221.9" cy="123.6" r="3.2"/><circle cx="226.6" cy="125.0" r="3.2"/><circle cx="238.3" cy="126.7" r="3.2"/><circle cx="243.8" cy="129.0" r="3.2"/><circle cx="284.6" cy="128.1" r="3.2"/><circle cx="290.8" cy="126.6" r="3.2"/><circle cx="231.3" cy="137.8" r="3.2"/><circle cx="229.9" cy="143.7" r="3.2"/><circle cx="235.6" cy="141.0" r="3.2"/><circle cx="236.5" cy="143.5" r="3.2"/><circle cx="247.4" cy="137.8" r="3.2"/><circle cx="256.2" cy="138.0" r="3.2"/><circle cx="259.9" cy="138.8" r="3.2"/><circle cx="268.7" cy="135.7" r="3.2"/><circle cx="265.9" cy="144.0" r="3.2"/><circle cx="277.0" cy="138.1" r="3.2"/><circle cx="284.8" cy="138.1" r="3.2"/><circle cx="283.5" cy="144.5" r="3.2"/><circle cx="248.6" cy="149.7" r="3.2"/><circle cx="292.1" cy="149.5" r="3.2"/><circle cx="295.7" cy="149.5" r="3.2"/><circle cx="223.8" cy="155.1" r="3.2"/><circle cx="234.7" cy="155.2" r="3.2"/><circle cx="238.0" cy="155.2" r="3.2"/><circle cx="221.9" cy="161.2" r="3.2"/><circle cx="236.0" cy="161.0" r="3.2"/><circle cx="277.0" cy="161.2" r="3.2"/><circle cx="284.6" cy="161.2" r="3.2"/><circle cx="290.0" cy="161.2" r="3.2"/><circle cx="294.7" cy="161.2" r="3.2"/><circle cx="251.0" cy="165.6" r="3.2"/><circle cx="264.0" cy="166.6" r="3.2"/><circle cx="236.3" cy="168.4" r="3.2"/><circle cx="275.4" cy="172.8" r="3.2"/><circle cx="282.7" cy="173.7" r="3.2"/><circle cx="296.0" cy="172.5" r="3.2"/><circle cx="229.7" cy="178.5" r="3.2"/><circle cx="268.4" cy="179.9" r="3.2"/><circle cx="299.9" cy="184.1" r="3.2"/><circle cx="304.0" cy="182.6" r="3.2"/><circle cx="229.7" cy="188.0" r="3.2"/><circle cx="227.9" cy="191.2" r="3.2"/><circle cx="248.6" cy="195.3" r="3.2"/><circle cx="253.1" cy="196.0" r="3.2"/><circle cx="279.1" cy="195.8" r="3.2"/><circle cx="283.2" cy="197.6" r="3.2"/><circle cx="226.1" cy="201.3" r="3.2"/><circle cx="240.3" cy="207.5" r="3.2"/><circle cx="230.3" cy="212.8" r="3.2"/><circle cx="228.5" cy="218.9" r="3.2"/><circle cx="272.3" cy="213.2" r="3.2"/><circle cx="277.3" cy="215.3" r="3.2"/><circle cx="273.1" cy="219.2" r="3.2"/><circle cx="264.0" cy="224.6" r="3.2"/><circle cx="292.6" cy="224.6" r="3.2"/><circle cx="300.9" cy="224.6" r="3.2"/><circle cx="232.9" cy="235.5" r="3.2"/><circle cx="242.4" cy="247.5" r="3.2"/><circle cx="269.2" cy="247.9" r="3.2"/><circle cx="283.0" cy="241.6" r="3.2"/><circle cx="295.7" cy="239.1" r="3.2"/><circle cx="297.8" cy="242.5" r="3.2"/><circle cx="292.1" cy="247.7" r="3.2"/><circle cx="296.0" cy="247.9" r="3.2"/><circle cx="240.3" cy="264.8" r="3.2"/><circle cx="274.9" cy="265.1" r="3.2"/><circle cx="287.7" cy="264.8" r="3.2"/><circle cx="249.5" cy="276.5" r="3.2"/><circle cx="251.5" cy="277.3" r="3.2"/><circle cx="278.9" cy="282.1" r="3.2"/><circle cx="232.3" cy="285.8" r="3.2"/><circle cx="230.8" cy="290.8" r="3.2"/><circle cx="304.5" cy="287.9" r="3.2"/><circle cx="252.9" cy="293.6" r="3.2"/><circle cx="271.8" cy="292.0" r="3.2"/><circle cx="281.4" cy="293.9" r="3.2"/><circle cx="231.8" cy="298.6" r="3.2"/><circle cx="272.8" cy="299.6" r="3.2"/><circle cx="288.9" cy="300.8" r="3.2"/><circle cx="272.1" cy="315.8" r="3.2"/><circle cx="272.6" cy="317.1" r="3.2"/><circle cx="233.4" cy="322.9" r="3.2"/><circle cx="239.4" cy="325.4" r="3.2"/><circle cx="283.8" cy="322.3" r="3.2"/><circle cx="264.7" cy="328.4" r="3.2"/><circle cx="259.1" cy="334.1" r="3.2"/><circle cx="238.9" cy="351.4" r="3.2"/><circle cx="273.9" cy="351.6" r="3.2"/><circle cx="223.0" cy="368.9" r="3.2"/><circle cx="299.9" cy="376.1" r="3.2"/><circle cx="233.4" cy="388.5" r="3.2"/><circle cx="243.0" cy="386.6" r="3.2"/><circle cx="252.4" cy="397.7" r="3.2"/><circle cx="294.1" cy="399.1" r="3.2"/><circle cx="242.0" cy="409.5" r="3.2"/><circle cx="239.8" cy="415.2" r="3.2"/><circle cx="279.3" cy="409.3" r="3.2"/><circle cx="294.7" cy="411.2" r="3.2"/><circle cx="240.6" cy="432.1" r="3.2"/><circle cx="256.4" cy="441.4" r="3.2"/><circle cx="272.8" cy="449.9" r="3.2"/><circle cx="286.6" cy="467.5" r="3.2"/><circle cx="279.6" cy="484.5" r="3.2"/></g>

<g fill="#D95F02"><circle cx="512.9" cy="103.3" r="3.2"/><circle cx="524.5" cy="101.9" r="3.2"/><circle cx="523.0" cy="105.9" r="3.2"/><circle cx="535.5" cy="105.9" r="3.2"/><circle cx="546.3" cy="101.4" r="3.2"/><circle cx="572.6" cy="101.4" r="3.2"/><circle cx="571.0" cy="103.5" r="3.2"/><circle cx="508.2" cy="114.2" r="3.2"/><circle cx="507.1" cy="116.8" r="3.2"/><circle cx="516.0" cy="114.7" r="3.2"/><circle cx="514.7" cy="118.0" r="3.2"/><circle cx="517.0" cy="120.4" r="3.2"/><circle cx="522.2" cy="118.6" r="3.2"/><circle cx="564.8" cy="114.9" r="3.2"/><circle cx="567.7" cy="112.6" r="3.2"/><circle cx="570.2" cy="114.9" r="3.2"/><circle cx="578.8" cy="120.9" r="3.2"/><circle cx="576.0" cy="126.4" r="3.2"/><circle cx="506.9" cy="138.0" r="3.2"/><circle cx="501.9" cy="145.1" r="3.2"/><circle cx="523.4" cy="143.8" r="3.2"/><circle cx="538.3" cy="149.5" r="3.2"/><circle cx="541.4" cy="146.9" r="3.2"/><circle cx="543.8" cy="147.9" r="3.2"/><circle cx="553.4" cy="149.5" r="3.2"/><circle cx="556.8" cy="155.2" r="3.2"/><circle cx="562.7" cy="155.4" r="3.2"/><circle cx="573.6" cy="152.3" r="3.2"/><circle cx="536.0" cy="164.3" r="3.2"/><circle cx="552.1" cy="166.9" r="3.2"/><circle cx="501.9" cy="168.8" r="3.2"/><circle cx="530.5" cy="169.9" r="3.2"/><circle cx="547.1" cy="176.8" r="3.2"/><circle cx="504.3" cy="190.1" r="3.2"/><circle cx="507.9" cy="202.8" r="3.2"/><circle cx="556.8" cy="213.0" r="3.2"/><circle cx="554.4" cy="236.1" r="3.2"/><circle cx="579.3" cy="236.1" r="3.2"/><circle cx="581.9" cy="235.8" r="3.2"/><circle cx="560.8" cy="240.1" r="3.2"/><circle cx="548.7" cy="247.9" r="3.2"/><circle cx="531.0" cy="253.6" r="3.2"/><circle cx="521.0" cy="289.7" r="3.2"/><circle cx="573.6" cy="288.4" r="3.2"/><circle cx="576.4" cy="302.0" r="3.2"/><circle cx="566.9" cy="304.6" r="3.2"/><circle cx="515.8" cy="322.5" r="3.2"/><circle cx="562.7" cy="328.6" r="3.2"/><circle cx="584.0" cy="363.1" r="3.2"/><circle cx="561.7" cy="376.9" r="3.2"/><circle cx="568.7" cy="392.9" r="3.2"/><circle cx="517.5" cy="419.3" r="3.2"/><circle cx="549.2" cy="429.4" r="3.2"/><circle cx="555.1" cy="433.9" r="3.2"/><circle cx="553.0" cy="478.5" r="3.2"/><circle cx="566.9" cy="483.3" r="3.2"/><circle cx="558.0" cy="588.7" r="3.2"/></g>

<g fill="#1B9E77"><circle cx="1000.4" cy="102.2" r="3.2"/><circle cx="1009.8" cy="103.3" r="3.2"/><circle cx="1038.4" cy="104.5" r="3.2"/><circle cx="1055.0" cy="103.3" r="3.2"/><circle cx="1053.4" cy="109.2" r="3.2"/><circle cx="1028.7" cy="111.1" r="3.2"/><circle cx="1042.0" cy="114.9" r="3.2"/><circle cx="1030.1" cy="117.5" r="3.2"/><circle cx="1031.6" cy="120.4" r="3.2"/><circle cx="988.5" cy="115.8" r="3.2"/><circle cx="987.5" cy="120.6" r="3.2"/><circle cx="985.1" cy="126.4" r="3.2"/><circle cx="991.3" cy="126.4" r="3.2"/><circle cx="984.3" cy="132.3" r="3.2"/><circle cx="1059.1" cy="119.4" r="3.2"/><circle cx="1057.1" cy="120.9" r="3.2"/><circle cx="1062.0" cy="126.4" r="3.2"/><circle cx="1055.0" cy="128.2" r="3.2"/><circle cx="1017.4" cy="132.1" r="3.2"/><circle cx="1014.5" cy="134.7" r="3.2"/><circle cx="1011.9" cy="137.8" r="3.2"/><circle cx="1045.6" cy="138.0" r="3.2"/><circle cx="1033.9" cy="143.5" r="3.2"/><circle cx="1014.2" cy="146.4" r="3.2"/><circle cx="1023.8" cy="148.5" r="3.2"/><circle cx="1030.9" cy="149.5" r="3.2"/><circle cx="1034.5" cy="153.7" r="3.2"/><circle cx="1008.0" cy="155.1" r="3.2"/><circle cx="997.6" cy="161.2" r="3.2"/><circle cx="1044.4" cy="163.2" r="3.2"/><circle cx="1043.0" cy="166.7" r="3.2"/><circle cx="1057.1" cy="170.9" r="3.2"/><circle cx="1007.2" cy="178.4" r="3.2"/><circle cx="1058.9" cy="178.5" r="3.2"/><circle cx="1066.6" cy="178.5" r="3.2"/><circle cx="1007.0" cy="185.8" r="3.2"/><circle cx="1060.2" cy="191.2" r="3.2"/><circle cx="1008.8" cy="195.3" r="3.2"/><circle cx="1021.0" cy="201.3" r="3.2"/><circle cx="1020.5" cy="207.3" r="3.2"/><circle cx="990.6" cy="207.3" r="3.2"/><circle cx="1066.2" cy="212.8" r="3.2"/><circle cx="1005.3" cy="229.4" r="3.2"/><circle cx="1017.6" cy="230.4" r="3.2"/><circle cx="1004.6" cy="247.9" r="3.2"/><circle cx="1017.8" cy="247.9" r="3.2"/><circle cx="997.3" cy="259.4" r="3.2"/><circle cx="1067.8" cy="276.7" r="3.2"/><circle cx="1001.0" cy="282.5" r="3.2"/><circle cx="1019.9" cy="293.9" r="3.2"/><circle cx="1037.0" cy="311.2" r="3.2"/><circle cx="1004.6" cy="319.5" r="3.2"/><circle cx="1004.8" cy="323.1" r="3.2"/><circle cx="1025.7" cy="348.8" r="3.2"/><circle cx="1040.1" cy="351.6" r="3.2"/><circle cx="1053.3" cy="553.7" r="3.2"/></g>

<g fill="#D95F02"><circle cx="1310.6" cy="92.1" r="3.2"/><circle cx="1342.4" cy="92.3" r="3.2"/><circle cx="1338.8" cy="97.5" r="3.2"/><circle cx="1299.9" cy="97.5" r="3.2"/><circle cx="1271.3" cy="103.5" r="3.2"/><circle cx="1266.1" cy="107.6" r="3.2"/><circle cx="1287.6" cy="106.1" r="3.2"/><circle cx="1283.0" cy="109.2" r="3.2"/><circle cx="1313.1" cy="109.1" r="3.2"/><circle cx="1307.9" cy="114.3" r="3.2"/><circle cx="1330.5" cy="109.1" r="3.2"/><circle cx="1326.9" cy="115.1" r="3.2"/><circle cx="1334.7" cy="114.8" r="3.2"/><circle cx="1334.3" cy="120.8" r="3.2"/><circle cx="1283.4" cy="120.8" r="3.2"/><circle cx="1314.4" cy="120.6" r="3.2"/><circle cx="1315.4" cy="125.5" r="3.2"/><circle cx="1265.6" cy="132.6" r="3.2"/><circle cx="1264.5" cy="134.0" r="3.2"/><circle cx="1299.7" cy="132.3" r="3.2"/><circle cx="1299.0" cy="138.0" r="3.2"/><circle cx="1315.8" cy="143.7" r="3.2"/><circle cx="1294.1" cy="152.0" r="3.2"/><circle cx="1290.3" cy="156.2" r="3.2"/><circle cx="1291.9" cy="181.2" r="3.2"/><circle cx="1343.7" cy="179.9" r="3.2"/><circle cx="1296.0" cy="198.4" r="3.2"/><circle cx="1306.9" cy="201.4" r="3.2"/><circle cx="1331.3" cy="201.7" r="3.2"/><circle cx="1320.4" cy="218.9" r="3.2"/><circle cx="1338.8" cy="253.4" r="3.2"/><circle cx="1343.8" cy="265.0" r="3.2"/><circle cx="1311.0" cy="293.8" r="3.2"/></g>

<g stroke="#000" stroke-width="2.6"><line x1="332.9" y1="190.0" x2="332.9" y2="218.8"/><line x1="318.9" y1="190.0" x2="346.9" y2="190.0"/><line x1="318.9" y1="218.8" x2="346.9" y2="218.8"/></g><circle cx="332.9" cy="201.5" r="4.4" fill="#000"/>

<g stroke="#000" stroke-width="2.6"><line x1="612.2" y1="149.6" x2="612.2" y2="190.0"/><line x1="598.2" y1="149.6" x2="626.2" y2="149.6"/><line x1="598.2" y1="190.0" x2="626.2" y2="190.0"/></g><circle cx="612.2" cy="166.9" r="4.4" fill="#000"/>

<g stroke="#000" stroke-width="2.6"><line x1="1096.0" y1="149.6" x2="1096.0" y2="184.2"/><line x1="1082.0" y1="149.6" x2="1110.0" y2="149.6"/><line x1="1082.0" y1="184.2" x2="1110.0" y2="184.2"/></g><circle cx="1096.0" cy="166.9" r="4.4" fill="#000"/>

<g stroke="#000" stroke-width="2.6"><line x1="1375.2" y1="120.7" x2="1375.2" y2="143.8"/><line x1="1361.2" y1="120.7" x2="1389.2" y2="120.7"/><line x1="1361.2" y1="143.8" x2="1389.2" y2="143.8"/></g><circle cx="1375.2" cy="132.3" r="4.4" fill="#000"/>

<g stroke="#000" stroke-width="2.2" fill="none"><path d="M95.8,62 L95.8,697.9 L738.9,697.9"/><line x1="88.0" y1="668.70" x2="95.8" y2="668.70"/><line x1="88.0" y1="611.02" x2="95.8" y2="611.02"/><line x1="88.0" y1="553.34" x2="95.8" y2="553.34"/><line x1="88.0" y1="495.66" x2="95.8" y2="495.66"/><line x1="88.0" y1="437.98" x2="95.8" y2="437.98"/><line x1="88.0" y1="380.30" x2="95.8" y2="380.30"/><line x1="88.0" y1="322.62" x2="95.8" y2="322.62"/><line x1="88.0" y1="264.94" x2="95.8" y2="264.94"/><line x1="88.0" y1="207.26" x2="95.8" y2="207.26"/><line x1="88.0" y1="149.58" x2="95.8" y2="149.58"/><line x1="88.0" y1="91.90" x2="95.8" y2="91.90"/><line x1="263.0" y1="697.9" x2="263.0" y2="705.6"/><line x1="542.5" y1="697.9" x2="542.5" y2="705.6"/></g>
<g class="ls" font-size="25.3" text-anchor="end" fill="#000"><text x="81.7" y="678.10">0</text><text x="81.7" y="620.42">10</text><text x="81.7" y="562.74">20</text><text x="81.7" y="505.06">30</text><text x="81.7" y="447.38">40</text><text x="81.7" y="389.70">50</text><text x="81.7" y="332.02">60</text><text x="81.7" y="274.34">70</text><text x="81.7" y="216.66">80</text><text x="81.7" y="158.98">90</text><text x="81.7" y="101.30">100</text></g>

<g stroke="#000" stroke-width="2.2" fill="none"><path d="M858.6,62 L858.6,697.9 L1502.0,697.9"/><line x1="850.8" y1="668.70" x2="858.6" y2="668.70"/><line x1="850.8" y1="611.02" x2="858.6" y2="611.02"/><line x1="850.8" y1="553.34" x2="858.6" y2="553.34"/><line x1="850.8" y1="495.66" x2="858.6" y2="495.66"/><line x1="850.8" y1="437.98" x2="858.6" y2="437.98"/><line x1="850.8" y1="380.30" x2="858.6" y2="380.30"/><line x1="850.8" y1="322.62" x2="858.6" y2="322.62"/><line x1="850.8" y1="264.94" x2="858.6" y2="264.94"/><line x1="850.8" y1="207.26" x2="858.6" y2="207.26"/><line x1="850.8" y1="149.58" x2="858.6" y2="149.58"/><line x1="850.8" y1="91.90" x2="858.6" y2="91.90"/><line x1="1025.8" y1="697.9" x2="1025.8" y2="705.6"/><line x1="1305.0" y1="697.9" x2="1305.0" y2="705.6"/></g>
<g class="ls" font-size="25.3" text-anchor="end" fill="#000"><text x="844.5" y="678.10">0</text><text x="844.5" y="620.42">10</text><text x="844.5" y="562.74">20</text><text x="844.5" y="505.06">30</text><text x="844.5" y="447.38">40</text><text x="844.5" y="389.70">50</text><text x="844.5" y="332.02">60</text><text x="844.5" y="274.34">70</text><text x="844.5" y="216.66">80</text><text x="844.5" y="158.98">90</text><text x="844.5" y="101.30">100</text></g>

<text transform="translate(5.2,40.3) scale(0.89,1)" x="0" y="0" class="ls" font-weight="bold" font-size="47">a</text>
<text x="767.8" y="40.4" class="ls" font-weight="bold" font-size="46.5">b</text>
<text transform="translate(25.8,373.8) rotate(-90)" text-anchor="middle" class="dj" font-size="30">VE against medically-attended illness (%)</text>
<text transform="translate(789.2,386.6) rotate(-90)" text-anchor="middle" class="ls" font-size="29.8">VE against severe disease (%)</text>
<text x="260.7" y="729.8" text-anchor="middle" class="dj" font-size="25.2">Clinical</text>
<text x="262.9" y="761.2" text-anchor="middle" class="dj" font-size="25.2">case definition</text>
<text x="541.6" y="729.8" text-anchor="middle" class="ls" font-size="25.6">No clinical</text>
<text x="543.4" y="761.2" text-anchor="middle" class="ls" font-size="25.6">case definition</text>
<text x="1024.5" y="729.5" text-anchor="middle" class="dj" font-size="25.2">Clinical</text>
<text x="1026.8" y="761.0" text-anchor="middle" class="dj" font-size="25.2">case definition</text>
<text x="1305.7" y="729.5" text-anchor="middle" class="ls" font-size="25.6">No clinical</text>
<text x="1307.3" y="761.0" text-anchor="middle" class="ls" font-size="25.6">case definition</text>
</svg>
</body></html>
